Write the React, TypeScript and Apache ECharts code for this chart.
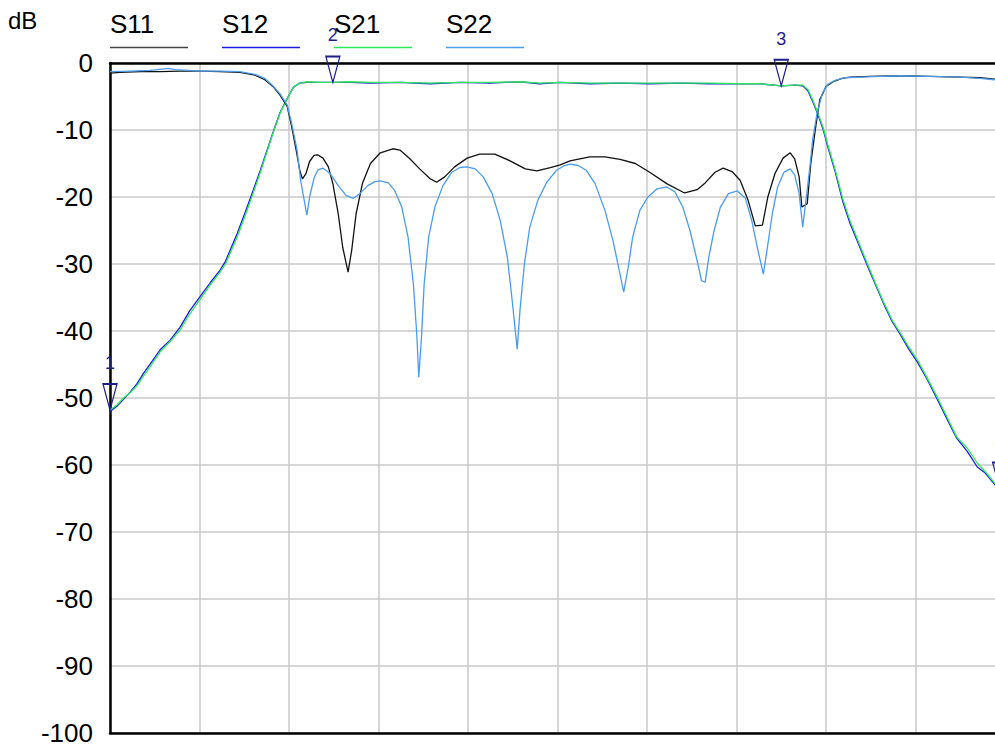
import React, { useEffect, useRef } from "react";
import * as echarts from "echarts";

// x: normalized sweep position (0..100, 10 divisions), y: dB
const yTicks = [0, -10, -20, -30, -40, -50, -60, -70, -80, -90, -100];
const seriesNames = ["S11", "S12", "S21", "S22"];
const seriesColors = ["#111111", "#1a1ae0", "#2ee85a", "#4a9cee"];

const s21: [number, number][] = [
  [0, -51.8], [0.8, -51.0], [1.5, -50.0], [2.2, -49.3], [3.0, -48.2], [3.7, -46.8], [4.5, -45.3],
  [5.6, -43.1], [6.7, -41.6], [7.8, -39.9], [8.9, -37.5], [10.1, -35.2], [11.2, -33.1], [12.3, -31.2],
  [12.9, -30.0], [14.2, -26.0], [15.1, -22.8], [16.0, -19.4], [16.8, -16.3], [17.5, -13.4], [18.2, -10.5],
  [19.0, -7.5], [19.8, -5.3], [20.5, -3.6], [21.2, -3.0], [22.0, -2.8], [23.5, -2.9], [24.9, -2.9],
  [26.8, -2.8], [29.1, -2.9], [32.4, -2.9], [35.8, -3.0], [39.1, -2.9], [42.5, -2.9], [45.8, -2.8],
  [48.0, -3.0], [50.3, -2.9], [53.6, -3.0], [57.0, -3.0], [60.3, -3.0], [63.7, -3.0], [67.0, -3.0],
  [70.4, -3.1], [72.6, -3.1], [75.0, -3.4], [76.5, -3.3], [77.4, -3.3], [78.0, -4.0], [78.5, -5.5],
  [79.1, -7.5], [79.7, -9.7], [80.2, -12.2], [81.0, -15.8], [81.9, -20.4], [82.7, -23.6], [83.6, -26.6],
  [84.6, -29.9], [85.5, -32.8], [86.4, -35.6], [87.4, -38.4], [88.3, -40.3], [89.2, -42.3], [90.2, -44.3],
  [91.3, -47.0], [92.4, -49.8], [93.5, -52.8], [94.6, -55.8], [95.8, -57.5], [96.9, -59.7], [97.8, -61.0],
  [98.9, -62.8], [99.4, -63.5], [100, -64.3],
];

const s12: [number, number][] = [
  [0, -52.0], [0.8, -51.2], [1.5, -50.2], [2.2, -49.2], [3.0, -47.9], [3.7, -46.4], [4.5, -44.9],
  [5.6, -42.8], [6.7, -41.4], [7.8, -39.5], [8.9, -37.0], [10.1, -34.8], [11.2, -32.8], [12.3, -30.9],
  [12.9, -29.6], [14.2, -25.5], [15.1, -22.3], [16.0, -19.0], [16.8, -16.0], [17.5, -13.2], [18.2, -10.4],
  [19.0, -7.4], [19.8, -5.3], [20.5, -3.6], [21.2, -3.0], [22.0, -2.9], [23.5, -2.9], [24.9, -2.9],
  [26.8, -2.9], [29.1, -3.0], [32.4, -2.9], [35.8, -3.1], [39.1, -2.9], [42.5, -3.0], [45.8, -2.8],
  [48.0, -3.1], [50.3, -2.9], [53.6, -3.1], [57.0, -3.0], [60.3, -3.1], [63.7, -3.0], [67.0, -3.1],
  [70.4, -3.1], [72.6, -3.1], [75.0, -3.4], [76.5, -3.3], [77.4, -3.4], [78.0, -4.2], [78.5, -5.7],
  [79.1, -7.7], [79.7, -10.0], [80.2, -12.5], [81.0, -16.1], [81.9, -20.8], [82.7, -24.0], [83.6, -26.9],
  [84.6, -30.2], [85.5, -33.0], [86.4, -35.8], [87.4, -38.6], [88.3, -40.5], [89.2, -42.6], [90.2, -44.6],
  [91.3, -47.2], [92.4, -50.1], [93.5, -53.1], [94.6, -56.0], [95.8, -58.0], [96.9, -60.3], [97.8, -61.2],
  [98.9, -63.0], [99.4, -63.6], [100, -64.4],
];

const s11: [number, number][] = [
  [0, -1.5], [1.1, -1.4], [3.4, -1.3], [5.6, -1.3], [7.8, -1.2], [10.1, -1.2], [12.3, -1.3], [14.5, -1.4],
  [16.2, -1.8], [17.3, -2.5], [18.2, -3.5], [19.0, -4.8], [19.8, -6.5], [20.3, -9.5], [20.8, -13.0],
  [21.2, -16.0], [21.5, -17.3], [21.9, -16.5], [22.3, -14.7], [22.8, -13.8], [23.2, -13.7], [23.8, -14.2],
  [24.4, -15.5], [24.9, -18.0], [25.5, -22.5], [26.0, -27.5], [26.6, -31.2], [27.0, -28.0], [27.5, -22.5],
  [28.2, -18.0], [29.1, -15.0], [30.2, -13.4], [31.6, -12.8], [32.4, -13.0], [33.5, -14.3], [34.6, -15.8],
  [35.8, -17.3], [36.5, -17.8], [37.4, -17.0], [38.5, -15.5], [39.9, -14.2], [41.3, -13.6], [43.0, -13.6],
  [44.7, -14.6], [46.4, -15.8], [47.7, -16.1], [49.2, -15.6], [50.3, -15.2], [51.4, -14.6], [52.5, -14.3],
  [53.6, -14.0], [55.3, -14.0], [57.0, -14.4], [58.7, -15.0], [60.3, -16.3], [62.2, -18.0], [64.2, -19.4],
  [65.6, -18.9], [66.5, -17.9], [67.6, -16.3], [68.5, -15.7], [69.5, -16.2], [70.4, -17.5], [71.3, -20.5],
  [72.1, -24.3], [72.9, -24.2], [73.5, -20.0], [74.3, -16.5], [75.2, -14.2], [76.0, -13.4], [76.5, -14.3],
  [77.0, -17.0], [77.3, -21.5], [77.9, -21.0], [78.3, -15.0], [78.8, -10.0], [79.3, -5.5], [80.0, -3.5],
  [80.8, -2.8], [81.8, -2.3], [82.7, -2.1], [84.9, -2.0], [88.3, -1.9], [91.6, -2.0], [95.0, -2.1],
  [97.2, -2.2], [98.9, -2.4], [100, -2.4],
];

const s22: [number, number][] = [
  [0, -1.3], [2.2, -1.2], [4.5, -1.1], [6.5, -0.8], [7.3, -1.0], [10.1, -1.2], [12.3, -1.2], [14.5, -1.3],
  [16.2, -1.7], [17.3, -2.3], [18.2, -3.4], [19.0, -4.6], [19.8, -6.3], [20.3, -9.0], [20.9, -13.0],
  [21.3, -17.5], [21.7, -20.5], [22.0, -22.7], [22.3, -20.0], [22.8, -17.2], [23.2, -16.0], [23.8, -15.7],
  [24.6, -16.5], [25.5, -18.3], [26.4, -19.8], [27.2, -20.2], [27.9, -19.5], [28.8, -18.3], [29.6, -17.7],
  [30.2, -17.6], [31.1, -17.9], [31.8, -19.0], [32.6, -21.5], [33.3, -26.0], [33.9, -33.0], [34.3, -41.0],
  [34.5, -46.9], [34.8, -41.0], [35.1, -33.0], [35.6, -26.0], [36.3, -21.5], [37.2, -18.3], [38.2, -16.3],
  [39.1, -15.6], [39.9, -15.5], [40.8, -15.8], [41.7, -17.0], [42.7, -19.5], [43.6, -23.5], [44.4, -29.0],
  [44.9, -35.0], [45.5, -42.7], [45.8, -37.0], [46.3, -30.0], [46.9, -24.5], [47.8, -20.5], [48.8, -17.8],
  [49.9, -16.0], [50.8, -15.3], [51.4, -15.1], [52.3, -15.3], [53.2, -16.0], [54.2, -18.0], [55.3, -22.0],
  [56.2, -26.5], [56.9, -31.0], [57.4, -34.2], [57.9, -30.5], [58.4, -26.0], [59.2, -22.0], [60.1, -20.0],
  [61.1, -18.8], [62.2, -18.5], [63.1, -19.2], [64.0, -21.5], [64.8, -25.0], [65.6, -29.5], [66.1, -32.5],
  [66.5, -32.7], [66.9, -29.0], [67.5, -25.0], [68.2, -21.5], [69.1, -19.5], [70.1, -19.1], [71.0, -20.2],
  [71.7, -23.5], [72.4, -28.0], [73.0, -31.5], [73.4, -28.0], [74.0, -22.5], [74.6, -18.5], [75.3, -16.3],
  [76.0, -15.8], [76.5, -16.7], [77.0, -19.5], [77.4, -24.5], [77.8, -20.0], [78.2, -15.5], [78.5, -11.5],
  [79.0, -7.5], [79.6, -4.5], [80.2, -3.2], [81.0, -2.6], [82.1, -2.2], [83.8, -2.1], [86.0, -2.0],
  [88.3, -1.9], [91.6, -2.0], [95.0, -2.1], [97.2, -2.3], [98.9, -2.5], [100, -2.5],
];

const markerIds = ["1", "2", "3", "4"];
const markerX = [0, 24.9, 75.0, 99.4];
const markerY = [-51.8, -2.9, -3.4, -63.5];

const FONT = "'Liberation Sans', Arial, sans-serif";
const NAVY = "#1d1d8c";

export default function App() {
  const ref = useRef<HTMLDivElement>(null);
  useEffect(() => {
    if (!ref.current) return;
    const chart = echarts.init(ref.current, undefined, { renderer: "svg" });
    const dataSets = [s11, s12, s21, s22];
    const legendX0 = 110;
    const legendStep = 112;
    const graphics: any[] = [
      {
        type: "text",
        x: 8,
        y: 8,
        style: { text: "dB", font: `24px ${FONT}`, fill: "#000" },
      },
    ];
    seriesNames.forEach((n, i) => {
      graphics.push({
        type: "text",
        x: legendX0 + i * legendStep,
        y: 11,
        style: { text: n, font: `26px ${FONT}`, fill: "#000" },
      });
      graphics.push({
        type: "line",
        shape: { x1: legendX0 + i * legendStep, y1: 47.5, x2: legendX0 + i * legendStep + 78, y2: 47.5 },
        style: { stroke: i === 0 ? "#444" : seriesColors[i], lineWidth: 1.3 },
      });
    });
    const order = [1, 2, 0, 3];
    const blackLine = { show: true, lineStyle: { color: "#000", width: 2.5 } };
    chart.setOption({
      animation: false,
      backgroundColor: "#fff",
      grid: { left: 110, top: 63, right: 0, bottom: 14 },
      xAxis: [
        {
          type: "value",
          position: "bottom",
          min: 0,
          max: 100,
          interval: 10,
          axisLine: { ...blackLine, onZero: false },
          axisTick: { show: false },
          axisLabel: { show: false },
          splitLine: { show: true, lineStyle: { color: "#c8c8c8", width: 1.5 } },
        },
        {
          type: "value",
          position: "top",
          min: 0,
          max: 100,
          interval: 10,
          axisLine: { ...blackLine, onZero: false },
          axisTick: { show: false },
          axisLabel: { show: false },
          splitLine: { show: false },
        },
      ],
      yAxis: {
        type: "value",
        min: -100,
        max: 0,
        interval: 10,
        axisLine: { ...blackLine, onZero: false },
        axisTick: { show: false },
        axisLabel: {
          color: "#000",
          fontSize: 26,
          fontFamily: FONT,
          margin: 17,
          formatter: (v: number) => (yTicks.includes(v) ? String(v) : ""),
        },
        splitLine: { show: true, lineStyle: { color: "#c8c8c8", width: 1.5 } },
      },
      graphic: graphics,
      series: order.map((i) => ({
        name: seriesNames[i],
        type: "line",
        xAxisIndex: 0,
        data: dataSets[i],
        showSymbol: false,
        symbol: "none",
        smooth: false,
        clip: true,
        lineStyle: { color: seriesColors[i], width: 1.3 },
        itemStyle: { color: seriesColors[i] },
        z: 3,
        markPoint:
          i === 2
            ? {
                symbol: "path://M0,0 L14,0 L7,26 Z",
                symbolSize: [14, 26],
                symbolOffset: [0, -13],
                itemStyle: { color: "rgba(255,255,255,0)", borderColor: NAVY, borderWidth: 1.5 },
                label: {
                  show: true,
                  position: "top",
                  distance: 11,
                  color: NAVY,
                  fontSize: 18,
                  fontFamily: FONT,
                  formatter: (p: any) => p.name,
                },
                data: markerIds.map((id, k) => ({ name: id, coord: [markerX[k], markerY[k]] })),
              }
            : undefined,
      })),
    });
    return () => chart.dispose();
  }, []);
  return (
    <div
      style={{ position: "absolute", left: 0, top: 0, width: 995, height: 747, overflow: "hidden", background: "#fff" }}
    >
      <div ref={ref} style={{ width: 1005, height: 747 }} />
    </div>
  );
}
